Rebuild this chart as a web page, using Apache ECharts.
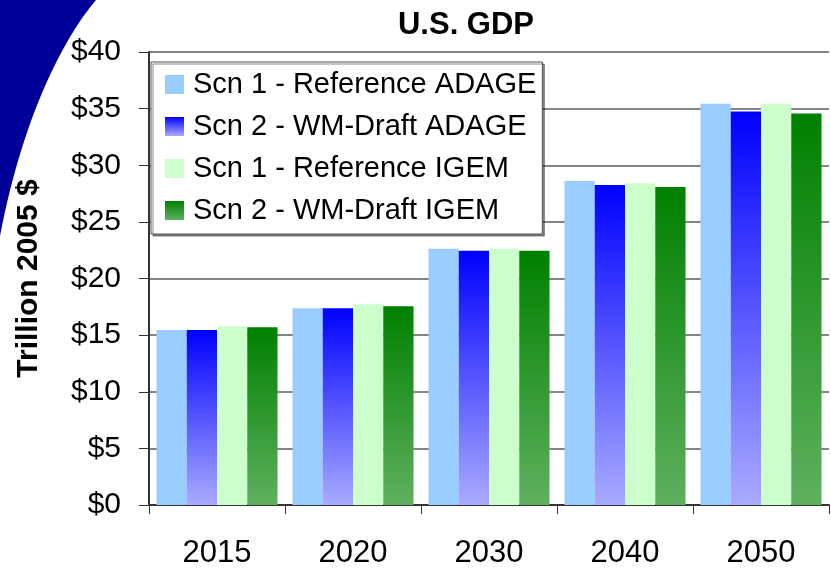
<!DOCTYPE html>
<html>
<head>
<meta charset="utf-8">
<script src="https://cdn.jsdelivr.net/npm/echarts@6/dist/echarts.min.js"></script>
<style>
html,body{margin:0;padding:0;background:#fff;}
#chart{width:831px;height:569px;}
</style>
</head>
<body>
<div id="chart"></div>
<script>
var categories = ['2015', '2020', '2030', '2040', '2050'];
var seriesNames = ['Scn 1 - Reference ADAGE', 'Scn 2 - WM-Draft ADAGE', 'Scn 1 - Reference IGEM', 'Scn 2 - WM-Draft IGEM'];
var refAdage = [15.45, 17.37, 22.63, 28.6, 35.44];
var wmAdage = [15.45, 17.37, 22.46, 28.25, 34.74];
var refIgem = [15.79, 17.72, 22.63, 28.42, 35.44];
var wmIgem = [15.7, 17.54, 22.46, 28.07, 34.56];
var yMin = 0, yMax = 40, yStep = 5;

var FONT = 'Liberation Sans, Arial, sans-serif';
function grad(top, bottom) {
  return {type: 'linear', x: 0, y: 0, x2: 0, y2: 1,
    colorStops: [{offset: 0, color: top}, {offset: 1, color: bottom}]};
}
var styles = [
  {color: '#99ccff'},
  {color: grad('#0000ff', '#aaaaff')},
  {color: '#ccffcc'},
  {color: grad('#008000', '#5fb05f')}
];
var values = [refAdage, wmAdage, refIgem, wmIgem];

// decorative corner swoosh (slide background)
var swoosh = [[0, 0]];
(function () {
  var p0 = [96, 0], p1 = [62, 40], p2 = [22, 120], p3 = [0, 236];
  for (var k = 0; k <= 30; k++) {
    var t = k / 30, u = 1 - t;
    swoosh.push([
      u*u*u*p0[0] + 3*u*u*t*p1[0] + 3*u*t*t*p2[0] + t*t*t*p3[0],
      u*u*u*p0[1] + 3*u*u*t*p1[1] + 3*u*t*t*p2[1] + t*t*t*p3[1]
    ]);
  }
})();

var chart = echarts.init(document.getElementById('chart'));
chart.setOption({
  animation: false,
  backgroundColor: '#ffffff',
  graphic: [{
    type: 'polygon',
    z: -10,
    shape: {points: swoosh},
    style: {fill: '#000099'}
  }],
  title: {
    text: 'U.S. GDP',
    left: 461, textAlign: 'center', top: 5,
    textStyle: {fontFamily: FONT, fontSize: 31, fontWeight: 'bold', color: '#000'}
  },
  legend: {
    orient: 'vertical',
    left: 151, top: 62,
    padding: [8, 6, 9, 14],
    itemWidth: 19, itemHeight: 19, itemGap: 13,
    backgroundColor: '#ffffff',
    borderColor: '#555555', borderWidth: 1,
    shadowColor: 'rgba(0,0,0,0.45)', shadowOffsetX: 2, shadowOffsetY: 2, shadowBlur: 0,
    icon: 'rect',
    textStyle: {fontFamily: FONT, fontSize: 29, color: '#000', padding: [0, 0, 0, 4]},
    data: seriesNames
  },
  grid: {left: 149, top: 52, right: 2, bottom: 62, containLabel: false},
  xAxis: {
    type: 'category',
    data: categories,
    axisLine: {lineStyle: {color: '#333', width: 2}},
    axisTick: {show: true, length: 9, lineStyle: {color: '#333', width: 1}},
    axisLabel: {fontFamily: FONT, fontSize: 31, color: '#000', margin: 33}
  },
  yAxis: {
    type: 'value',
    min: yMin, max: yMax, interval: yStep,
    name: 'Trillion 2005 $',
    nameLocation: 'middle',
    nameGap: 105,
    nameTextStyle: {fontFamily: FONT, fontSize: 30, fontWeight: 'bold', color: '#000'},
    axisLine: {show: true, lineStyle: {color: '#333', width: 2}},
    axisTick: {show: true, length: 10, lineStyle: {color: '#333', width: 1}},
    axisLabel: {fontFamily: FONT, fontSize: 30, color: '#000', margin: 28,
      formatter: function (v) { return '$' + v; }},
    splitLine: {show: true, lineStyle: {color: '#858585', width: 2}}
  },
  series: seriesNames.map(function (n, i) {
    return {
      name: n, type: 'bar', data: values[i],
      barGap: '0%', barCategoryGap: '11%',
      itemStyle: styles[i]
    };
  })
});
</script>
</body>
</html>
